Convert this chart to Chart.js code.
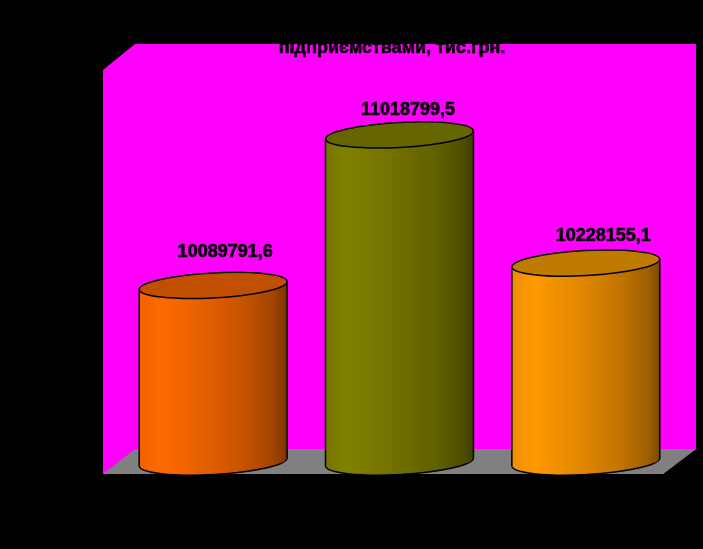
<!DOCTYPE html>
<html>
<head>
<meta charset="utf-8">
<style>
  body { margin: 0; background: #000; }
  #wrap { width: 703px; height: 549px; }
</style>
<script src="https://cdn.jsdelivr.net/npm/chart.js@4"></script>
</head>
<body>
<div id="wrap"><canvas id="chart" width="703" height="549"></canvas></div>
<script>
const titleText = 'підприємствами, тис.грн.';
const categories = ['1', '2', '3'];
const values = [10089791.6, 11018799.5, 10228155.1];
const valueLabels = ['10089791,6', '11018799,5', '10228155,1'];
const axisMin = 9000000;
const axisMax = 11500000;

// couleurs de base (r, g, b) et dessus du cylindre
const baseColors = [[255, 106, 0], [128, 128, 0], [255, 153, 0]];
const topColors = ['#c05000', '#666600', '#c07a00'];

// ombrage horizontal du cylindre : position, facteur
const shadeStops = [[0, 0.93], [0.15, 1], [0.5, 0.87], [0.75, 0.75], [0.92, 0.62], [1, 0.48]];

// décalage des étiquettes par rapport au haut de chaque barre
const labelShift = [[12, -28], [8.5, -20], [17.5, -22]];

const TILT = 0.054;
const RY = 12.5;

function barGradient(ctx, i, left, right) {
    const g = ctx.createLinearGradient(left, 0, right, 0);
    const [r, gr, b] = baseColors[i];
    shadeStops.forEach(([pos, f]) => {
        g.addColorStop(pos, `rgb(${r * f}, ${gr * f}, ${b * f})`);
    });
    return g;
}

function ellipse(ctx, x, y, rx) {
    ctx.beginPath();
    ctx.ellipse(x, y, rx, RY, -TILT, 0, Math.PI * 2);
}

const cylinderPlugin = {
    id: 'cylinder',
    beforeDraw(chart) {
        // murs et sol de la scène 3D
        const c = chart.ctx;
        c.save();
        c.fillStyle = '#000';
        c.fillRect(0, 0, chart.width, chart.height);
        c.fillStyle = '#ff00ff';
        c.beginPath();
        c.moveTo(103, 70);
        c.lineTo(135, 44);
        c.lineTo(696, 44);
        c.lineTo(696, 449);
        c.lineTo(663, 474);
        c.lineTo(103, 474);
        c.closePath();
        c.fill();
        c.fillStyle = '#808080';
        c.beginPath();
        c.moveTo(135, 449);
        c.lineTo(696, 449);
        c.lineTo(663, 474);
        c.lineTo(103, 474);
        c.closePath();
        c.fill();
        c.restore();
    },
    beforeDatasetDraw(chart, args) {
        const c = chart.ctx;
        const bars = chart.getDatasetMeta(args.index).data;
        // bas arrondi des cylindres
        bars.forEach((bar, i) => {
            const rx = bar.width / 2;
            c.save();
            c.fillStyle = barGradient(c, i, bar.x - rx, bar.x + rx);
            c.strokeStyle = '#000';
            c.lineWidth = 1.5;
            ellipse(c, bar.x, bar.base, rx);
            c.fill();
            c.stroke();
            c.restore();
        });
        // on coupe le haut des barres pour suivre l'ellipse inclinée
        c.save();
        c.beginPath();
        bars.forEach(bar => {
            const rx = bar.width / 2;
            const dy = rx * Math.sin(TILT);
            c.moveTo(bar.x - rx, bar.y + dy);
            c.lineTo(bar.x + rx, bar.y - dy);
            c.lineTo(bar.x + rx, bar.base - dy);
            c.lineTo(bar.x - rx, bar.base + dy);
            c.closePath();
        });
        c.clip();
    },
    afterDatasetDraw(chart, args) {
        const c = chart.ctx;
        c.restore();
        const bars = chart.getDatasetMeta(args.index).data;
        bars.forEach((bar, i) => {
            const rx = bar.width / 2;
            const dy = rx * Math.sin(TILT);
            c.save();
            // le rectangle de la barre s'arrête à la base : on complète les coins
            c.fillStyle = barGradient(c, i, bar.x - rx, bar.x + rx);
            c.beginPath();
            c.moveTo(bar.x - rx, bar.base - 1);
            c.lineTo(bar.x + rx, bar.base - dy - 1);
            c.lineTo(bar.x + rx - 3, bar.base);
            c.lineTo(bar.x, bar.base + RY - 1);
            c.lineTo(bar.x - rx + 3, bar.base + dy + 1);
            c.lineTo(bar.x - rx, bar.base + dy);
            c.closePath();
            c.fill();
            c.strokeStyle = '#000';
            c.lineWidth = 1.5;
            c.beginPath();
            c.moveTo(bar.x - rx, bar.y + dy);
            c.lineTo(bar.x - rx, bar.base + dy);
            c.moveTo(bar.x + rx, bar.y - dy);
            c.lineTo(bar.x + rx, bar.base - dy);
            c.stroke();
            ellipse(c, bar.x, bar.y, rx);
            c.fillStyle = topColors[i];
            c.fill();
            c.stroke();
            c.restore();
        });
    },
    afterDatasetsDraw(chart) {
        const c = chart.ctx;
        const bars = chart.getDatasetMeta(0).data;
        c.save();
        c.font = 'bold 18px "Liberation Sans"';
        c.fillStyle = '#000';
        c.strokeStyle = '#000';
        c.lineWidth = 0.6;
        c.textAlign = 'center';
        c.textBaseline = 'alphabetic';
        bars.forEach((bar, i) => {
            const x = bar.x + labelShift[i][0];
            const y = bar.y + labelShift[i][1];
            c.fillText(valueLabels[i], x, y);
            c.strokeText(valueLabels[i], x, y);
        });
        c.fillText(titleText, 392, 53);
        c.strokeText(titleText, 392, 53);
        c.restore();
    }
};

new Chart(document.getElementById('chart'), {
    type: 'bar',
    data: {
        labels: categories,
        datasets: [{
            data: values,
            base: axisMin,
            barPercentage: 0.794,
            categoryPercentage: 1,
            borderWidth: 0,
            clip: false,
            backgroundColor(ctx) {
                const area = ctx.chart.chartArea;
                if (!area) return '#000';
                const bar = ctx.chart.getDatasetMeta(0).data[ctx.dataIndex];
                const x = ctx.chart.scales.x.getPixelForValue(ctx.dataIndex);
                const half = bar && bar.width ? bar.width / 2 : 74;
                return barGradient(ctx.chart.ctx, ctx.dataIndex, x - half, x + half);
            }
        }]
    },
    options: {
        responsive: false,
        animation: false,
        layout: { padding: { left: 120, right: 24, top: 57, bottom: 87 } },
        plugins: { legend: { display: false }, tooltip: { enabled: false } },
        scales: {
            x: { display: false },
            y: { display: false, min: axisMin, max: axisMax }
        }
    },
    plugins: [cylinderPlugin]
});
</script>
</body>
</html>
